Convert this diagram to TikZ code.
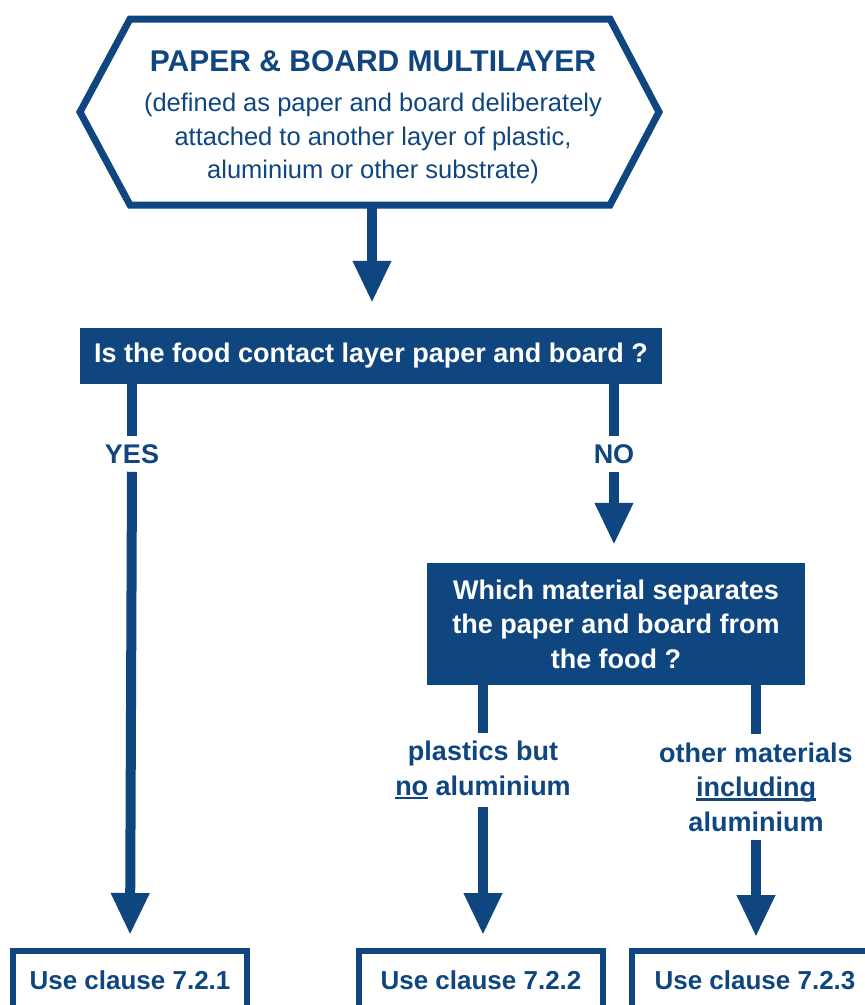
\documentclass[tikz,border=0pt]{standalone}
\usepackage{fontspec}
\setmainfont{Liberation Sans}
\usetikzlibrary{arrows.meta}
\definecolor{boxblue}{HTML}{10467F}
\newcommand{\undl}[1]{\setbox0\hbox{#1}\rlap{\rule[-4pt]{\wd0}{2.5pt}}\box0{}}
\tikzset{
  flow/.style={draw=boxblue, line width=10pt},
  flowarrow/.style={flow, -{Triangle[width=36pt,length=42pt]}},
  question/.style={fill=boxblue, text=white, font=\fontsize{27}{34.5}\selectfont\bfseries, align=center},
  answer/.style={text=boxblue, font=\fontsize{27}{34.5}\selectfont\bfseries, align=center, inner sep=8pt},
  clausebox/.style={draw=boxblue, line width=6pt, text=boxblue, font=\fontsize{26}{30}\selectfont\bfseries,
    minimum height=58pt, inner sep=0pt}
}

\begin{document}
\begin{tikzpicture}[x=1pt,y=-1pt]
  \useasboundingbox (0,0) rectangle (865,1005);
  \clip (0,0) rectangle (865,1005);
  % start: hexagon
  \draw[boxblue, line width=7pt, line join=miter] (130,19) -- (610,19) -- (659,112) -- (610,205)
      -- (130,205) -- (80,112) -- cycle;
  \node[text=boxblue, align=center, font=\fontsize{25.5}{33.5}\selectfont] (head) at (373,117)
      {{\fontsize{30}{36}\selectfont\bfseries PAPER \& BOARD MULTILAYER}\\[7pt]
       (defined as paper and board deliberately\\
       attached to another layer of plastic,\\
       aluminium or other substrate)};
  \coordinate (hexbot) at (372,205);

  % questions
  \node[question, minimum width=582pt, minimum height=56pt] (q) at (371,356)
      {Is the food contact layer paper and board ?};
  \node[question, minimum width=378pt, minimum height=122pt] (w) at (616,624)
      {Which material separates\\the paper and board from\\the food ?};

  % answers
  \node[answer] (yes) at (132,454) {YES};
  \node[answer] (no) at (614,454) {NO};
  \node[answer] (plast) at (483,770) {plastics but\\\undl{no} aluminium};
  \node[answer] (other) at (756,787) {other materials\\\undl{including}\\aluminium};

  % clauses
  \node[clausebox, minimum width=234pt] (c1) at (130,980) {Use clause 7.2.1};
  \node[clausebox, minimum width=244pt] (c2) at (481,980) {Use clause 7.2.2};
  \node[clausebox, minimum width=246pt] (c3) at (755,980) {Use clause 7.2.3};

  % connectors
  \draw[flowarrow, shorten >=25pt] (hexbot) -- (q.north -| hexbot);
  \draw[flow] (q.south -| yes) -- (yes.north);
  \draw[flowarrow, shorten >=13pt] (yes.south) -- (c1.north);
  \draw[flow] (q.south -| no) -- (no.north);
  \draw[flowarrow, shorten >=18pt] (no.south) -- (w.north -| no);
  \draw[flow] (w.south -| plast) -- (plast.north);
  \draw[flowarrow, shorten >=13pt] (plast.south) -- (c2.north -| plast);
  \draw[flow] (w.south -| other) -- (other.north);
  \draw[flowarrow, shorten >=11pt] (other.south) -- (c3.north -| other);
\end{tikzpicture}
\end{document}
